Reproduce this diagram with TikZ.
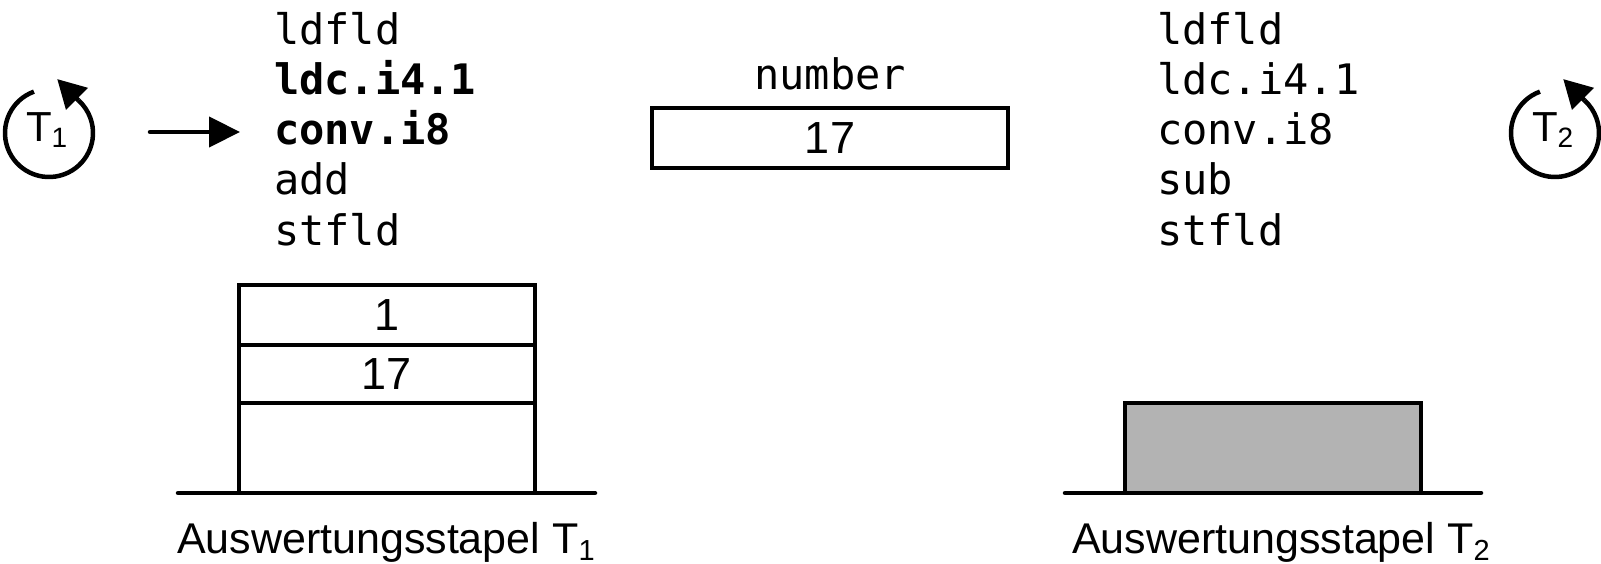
\documentclass[tikz,border=0pt]{standalone}
\usepackage{fontspec}
\setmainfont{Liberation Sans}
\newfontfamily\codefont{DejaVu Sans Mono}
\usetikzlibrary{arrows.meta,calc}
\begin{document}
\begin{tikzpicture}[x=1pt,y=-1pt,
  every node/.style={inner sep=0pt, outer sep=0pt},
  codeline/.style={anchor=base west, font=\codefont\fontsize{42}{50}\selectfont},
  numtext/.style={font=\fontsize{45}{54}\selectfont},
  stacklbl/.style={anchor=base west, font=\fontsize{43}{52}\selectfont},
  stackcell/.style={draw, line width=4.5pt, minimum width=296pt, numtext},
  floorline/.style={line width=4.5pt, line cap=round},
  thread/.style={anchor=base west, font=\fontsize{42}{50}\selectfont},
  spinarc/.style={line width=4.5pt},
  spinhead/.style={-{Triangle[length=28pt,width=30pt]}, line width=4.5pt},
  pcarrow/.style={-{Triangle[length=31pt,width=30pt]}, line width=4.5pt, line cap=round},
]
\useasboundingbox (0,0) rectangle (1601,564);

% thread 1
\coordinate (c1) at (49,133);
\node[thread] (t1) at (26,142) {T\raisebox{-6pt}{\fontsize{28}{28}\selectfont 1}};
\draw[spinarc] ($(c1)+(110:44pt)$) arc[start angle=110, end angle=408, radius=44pt];
\draw[spinhead] ($(c1)+(48:44pt)$) -- ++(135:30pt);

% thread 2
\coordinate (c2) at (1555,133);
\node[thread] (t2) at (1532,142) {T\raisebox{-6pt}{\fontsize{28}{28}\selectfont 2}};
\draw[spinarc] ($(c2)+(110:44pt)$) arc[start angle=110, end angle=408, radius=44pt];
\draw[spinhead] ($(c2)+(48:44pt)$) -- ++(135:30pt);

% code of thread 1
\node[codeline] (a1) at (274,45) {ldfld};
\node[codeline] (a2) at (274,95) {\bfseries ldc.i4.1};
\node[codeline] (a3) at (274,145) {\bfseries conv.i8};
\node[codeline] (a4) at (274,195) {add};
\node[codeline] (a5) at (274,245) {stfld};

% code of thread 2
\node[codeline] (b1) at (1157,45) {ldfld};
\node[codeline] (b2) at (1157,95) {ldc.i4.1};
\node[codeline] (b3) at (1157,145) {conv.i8};
\node[codeline] (b4) at (1157,195) {sub};
\node[codeline] (b5) at (1157,245) {stfld};

% program counter arrow
\coordinate (pc) at (150,132);
\coordinate (pcend) at (240,132);
\draw[pcarrow] (pc) -- (pcend);

% shared field
\node[codeline, anchor=base] (fname) at (830,90) {number};
\node[draw, line width=4.5pt, minimum width=356pt, minimum height=60pt, numtext] (field) at (830,138) {17};

% evaluation stack thread 1
\node[stackcell, minimum height=60pt] (s1) at (387,315) {1};
\node[stackcell, minimum height=58pt] (s2) at (387,374) {17};
\node[stackcell, minimum height=90pt] (s3) at (387,448) {};
\coordinate (f1l) at (178,493);
\coordinate (f1r) at (595,493);
\draw[floorline] (f1l) -- (f1r);
\node[stacklbl] (l1) at (177,553) {Auswertungsstapel T\raisebox{-7pt}{\fontsize{29}{29}\selectfont 1}};

% evaluation stack thread 2
\node[stackcell, minimum height=90pt, fill={rgb,255:red,179;green,179;blue,179}] (s4) at (1273,448) {};
\coordinate (f2l) at (1065,493);
\coordinate (f2r) at (1481,493);
\draw[floorline] (f2l) -- (f2r);
\node[stacklbl] (l2) at (1072,553) {Auswertungsstapel T\raisebox{-7pt}{\fontsize{29}{29}\selectfont 2}};
\end{tikzpicture}
\end{document}
